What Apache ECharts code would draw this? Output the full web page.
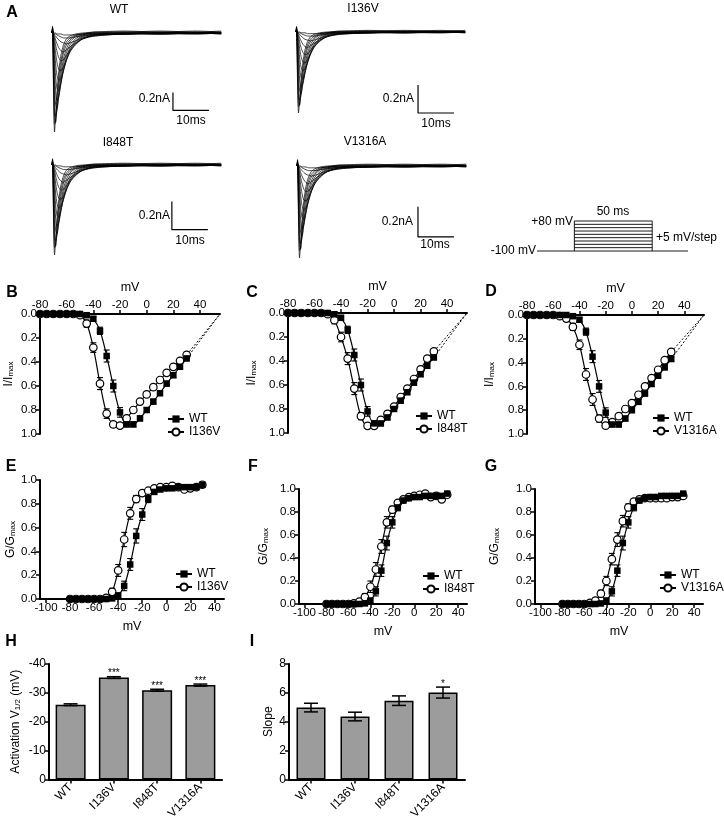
<!DOCTYPE html>
<html>
<head>
<meta charset="utf-8">
<script src="https://cdn.jsdelivr.net/npm/echarts@6.0.0/dist/echarts.min.js"></script>
<style>html,body{margin:0;padding:0;background:#fff;}#chart{width:724px;height:822px;}</style>
</head>
<body>
<div id="chart"></div>
<script>
// ---------------- DATA ----------------
// Panel A: current-trace family (normalised to the largest peak), shared sampling times (ms)
const traceTimesMs = [0, 0.15, 0.4, 0.7, 1.0, 1.4, 1.9, 2.5, 3.2, 4, 5, 6.5, 8.5, 12, 20, 30, 40, 47];
const traceFamily = [
  [0, 0.07, -0.55, -1.00, -0.85, -0.60, -0.38, -0.22, -0.12, -0.06, -0.03, -0.01, 0.00, 0.01, 0.02, 0.01, 0.02, 0.01],
  [0, 0.06, -0.45, -0.92, -0.90, -0.68, -0.45, -0.28, -0.16, -0.09, -0.05, -0.02, -0.01, 0.01, 0.01, 0.02, 0.01, 0.02],
  [0, 0.05, -0.35, -0.82, -0.90, -0.74, -0.52, -0.34, -0.20, -0.12, -0.07, -0.03, -0.01, 0.00, 0.01, 0.00, 0.01, 0.00],
  [0, 0.05, -0.25, -0.68, -0.84, -0.78, -0.60, -0.41, -0.26, -0.16, -0.09, -0.04, -0.02, 0.00, 0.00, 0.01, 0.00, 0.01],
  [0, 0.04, -0.18, -0.52, -0.72, -0.76, -0.64, -0.47, -0.31, -0.20, -0.12, -0.06, -0.02, 0.00, -0.01, 0.00, 0.00, -0.01],
  [0, 0.04, -0.12, -0.38, -0.58, -0.68, -0.64, -0.51, -0.36, -0.24, -0.15, -0.08, -0.03, -0.01, 0.00, -0.01, -0.01, 0.00],
  [0, 0.03, -0.08, -0.26, -0.44, -0.56, -0.58, -0.50, -0.38, -0.27, -0.17, -0.09, -0.04, -0.01, 0.00, -0.01, 0.00, 0.00],
  [0, 0.03, -0.05, -0.17, -0.31, -0.43, -0.48, -0.46, -0.38, -0.28, -0.19, -0.11, -0.05, -0.02, -0.01, 0.00, 0.00, -0.01],
  [0, 0.02, -0.03, -0.10, -0.20, -0.30, -0.37, -0.38, -0.34, -0.27, -0.19, -0.12, -0.06, -0.02, -0.01, -0.01, 0.00, 0.00],
  [0, 0.02, -0.02, -0.06, -0.12, -0.19, -0.25, -0.28, -0.27, -0.23, -0.17, -0.11, -0.06, -0.02, -0.01, 0.00, -0.01, 0.00],
  [0, 0.02, -0.01, -0.03, -0.07, -0.11, -0.15, -0.18, -0.19, -0.17, -0.14, -0.10, -0.06, -0.03, -0.01, -0.01, 0.00, 0.00],
  [0, 0.01, 0.00, -0.02, -0.03, -0.05, -0.07, -0.09, -0.10, -0.11, -0.10, -0.08, -0.05, -0.03, -0.01, 0.00, 0.00, 0.00],
  [0, 0.01, 0.00, -0.01, -0.01, -0.02, -0.03, -0.04, -0.05, -0.05, -0.05, -0.04, -0.03, -0.02, -0.01, 0.00, 0.00, 0.00],
  [0, 0.01, 0.01, 0.00, 0.00, -0.01, -0.01, -0.01, -0.02, -0.02, -0.02, -0.02, -0.01, -0.01, 0.00, 0.00, 0.00, 0.00]
];
const tracePanels = ['WT', 'I136V', 'I848T', 'V1316A'];
const tracePeakNA = [1.10, 0.58, 0.64, 0.61];
const scaleBarNA = 0.2;
const scaleBarMs = 10;
const scaleBarCornerMs = [33.6, 33.9, 33.3, 33.6];
const scaleBarCornerNA = [-0.86, -0.58, -0.46, -0.47];

// Voltage protocol
const holdingMv = -100;
const protocolStepsMv = [-80, -60, -40, -20, 0, 20, 40, 60, 80];
const protocolTimesMs = [-24, 0, 50, 73];

// I-V and G-V data
const voltages = [-80,-75,-70,-65,-60,-55,-50,-45,-40,-35,-30,-25,-20,-15,-10,-5,0,5,10,15,20,25,30];
const reversalMv = 55;
const ivWT     = [0,0,0,0,0,0,0,0.01,0.04,0.14,0.35,0.60,0.82,0.92,0.92,0.87,0.80,0.73,0.66,0.58,0.51,0.44,0.37];
const ivI136V  = [0,0,0,0,0,0,0.01,0.08,0.28,0.58,0.83,0.92,0.93,0.87,0.80,0.73,0.67,0.61,0.55,0.49,0.44,0.39,0.34];
const ivI848T  = [0,0,0,0,0,0,0.01,0.06,0.20,0.38,0.63,0.86,0.94,0.94,0.89,0.84,0.78,0.70,0.63,0.55,0.47,0.38,0.32];
const ivV1316A = [0,0,0,0,0,0.01,0.03,0.10,0.25,0.50,0.71,0.87,0.93,0.90,0.85,0.79,0.74,0.67,0.60,0.53,0.46,0.38,0.31];
const semWTiv     = [0,0,0,0,0,0,0,0.01,0.02,0.03,0.05,0.05,0.04,0.02,0.02,0.02,0.02,0.02,0.02,0.02,0.02,0.02,0.02];
const semI136Viv  = [0,0,0,0,0,0,0.01,0.03,0.04,0.05,0.04,0.02,0.02,0.02,0.02,0.02,0.02,0.02,0.02,0.02,0.02,0.02,0.02];
const semI848Tiv  = [0,0,0,0,0,0,0.01,0.03,0.04,0.05,0.05,0.03,0.02,0.02,0.02,0.02,0.02,0.02,0.02,0.02,0.02,0.02,0.02];
const semV1316Aiv = [0,0,0,0,0,0.01,0.02,0.03,0.04,0.05,0.05,0.03,0.02,0.02,0.02,0.02,0.02,0.02,0.02,0.02,0.02,0.02,0.02];

const gvWT     = [0,0,0,0,0,0,0,0.005,0.03,0.11,0.29,0.53,0.71,0.84,0.90,0.92,0.93,0.93,0.94,0.94,0.94,0.94,0.96];
const gvI136V  = [0,0,0,0,0,0,0.01,0.06,0.24,0.50,0.72,0.84,0.89,0.91,0.93,0.94,0.94,0.95,0.94,0.92,0.93,0.94,0.96];
const gvI848T  = [0,0,0,0,0,0.005,0.02,0.06,0.15,0.30,0.50,0.71,0.82,0.88,0.91,0.93,0.94,0.95,0.96,0.93,0.94,0.91,0.95];
const gvV1316A = [0,0,0,0,0,0.01,0.03,0.09,0.20,0.39,0.56,0.72,0.84,0.89,0.91,0.92,0.92,0.92,0.92,0.92,0.93,0.93,0.94];
const semWTgv     = [0,0,0,0,0,0,0,0.01,0.02,0.04,0.05,0.06,0.05,0.03,0.02,0.01,0.01,0.01,0.01,0.01,0.01,0.01,0.01];
const semI136Vgv  = [0,0,0,0,0,0,0.01,0.03,0.05,0.06,0.05,0.03,0.02,0.01,0.01,0.01,0.01,0.01,0.01,0.01,0.01,0.01,0.01];
const semI848Tgv  = [0,0,0,0,0,0,0.01,0.03,0.05,0.06,0.06,0.05,0.03,0.02,0.01,0.01,0.01,0.01,0.01,0.01,0.01,0.01,0.01];
const semV1316Agv = [0,0,0,0,0,0.01,0.02,0.03,0.04,0.05,0.06,0.05,0.03,0.02,0.01,0.01,0.01,0.01,0.01,0.01,0.01,0.01,0.01];

const ivTickValues = [-80, -60, -40, -20, 0, 20, 40];
const gvTickValues = [-100, -80, -60, -40, -20, 0, 20, 40];

// Bar panels H and I
const barCats = ['WT', 'I136V', 'I848T', 'V1316A'];
const actV12 = [-25.9, -35.3, -30.9, -32.7];
const actV12Sem = [0.3, 0.3, 0.35, 0.35];
const actV12Sig = ['', '***', '***', '***'];
const slopeVals = [4.98, 4.36, 5.46, 6.02];
const slopeSem = [0.3, 0.3, 0.33, 0.38];
const slopeSig = ['', '', '', '*'];

// ---------------- LAYOUT / STYLE ----------------
const FONT = '"Liberation Sans", Arial, Helvetica, sans-serif';
const BLACK = '#000';
const grid = [], xAxis = [], yAxis = [], series = [], legend = [], graphic = [];

function addPanel(g, xa, ya) {
  const i = grid.length;
  grid.push(g);
  xa.gridIndex = i; ya.gridIndex = i;
  xAxis.push(xa); yAxis.push(ya);
  return i;
}
function text(x, y, s, font, align, extra) {
  graphic.push(Object.assign({
    type: 'text', x: x, y: y, silent: true,
    style: {text: s, fill: BLACK, font: font, align: align || 'center', verticalAlign: 'middle',
            textAlign: align || 'center', textVerticalAlign: 'middle'}
  }, extra || {}));
}
const f12 = '12px ' + FONT;
const letterFont = 'bold 16px ' + FONT;
const subRich = {
  n: {fontSize: 12, fontFamily: FONT, color: BLACK},
  s: {fontSize: 8, fontFamily: FONT, color: BLACK, padding: [5, 0, 0, 0]}
};
function axisLineStyle() { return {show: true, onZero: false, lineStyle: {color: BLACK, width: 2}}; }
function axisTickStyle(extra) { return Object.assign({show: true, length: 4, lineStyle: {color: BLACK, width: 1.5}}, extra || {}); }
function axisLabelStyle(extra) { return Object.assign({color: BLACK, fontSize: 11.5, fontFamily: FONT, margin: 3}, extra || {}); }

function errRender(cap, lw) {
  return function (params, api) {
    const x = api.value(0), y = api.value(1), e = api.value(2);
    if (!e) return null;
    const p1 = api.coord([x, y - e]), p2 = api.coord([x, y + e]);
    const h = cap / 2;
    const st = {stroke: BLACK, lineWidth: lw};
    return {type: 'group', children: [
      {type: 'line', shape: {x1: p1[0], y1: p1[1], x2: p2[0], y2: p2[1]}, style: st},
      {type: 'line', shape: {x1: p1[0] - h, y1: p1[1], x2: p1[0] + h, y2: p1[1]}, style: st},
      {type: 'line', shape: {x1: p2[0] - h, y1: p2[1], x2: p2[0] + h, y2: p2[1]}, style: st}
    ]};
  };
}
function barErrRender(sig) {
  return function (params, api) {
    const x = api.value(0), y = api.value(1), e = api.value(2);
    const p1 = api.coord([x, y - e]), p2 = api.coord([x, y + e]);
    const h = 7;
    const st = {stroke: BLACK, lineWidth: 1.5};
    const top = Math.min(p1[1], p2[1]);
    const ch = [
      {type: 'line', shape: {x1: p1[0], y1: p1[1], x2: p2[0], y2: p2[1]}, style: st},
      {type: 'line', shape: {x1: p1[0] - h, y1: p1[1], x2: p1[0] + h, y2: p1[1]}, style: st},
      {type: 'line', shape: {x1: p2[0] - h, y1: p2[1], x2: p2[0] + h, y2: p2[1]}, style: st}
    ];
    const s = sig[params.dataIndex];
    if (s) ch.push({type: 'text', style: {text: s, x: p1[0], y: top - 3, fill: BLACK, font: '10px ' + FONT,
      align: 'center', verticalAlign: 'middle', textAlign: 'center', textVerticalAlign: 'middle'}});
    return {type: 'group', children: ch};
  };
}

// ---------- Panel A: traces ----------
const traceLayout = [
  {left: 52, top: 33, depth: 99},
  {left: 296, top: 32, depth: 81},
  {left: 52, top: 165, depth: 90},
  {left: 297, top: 166, depth: 92}
];
const traceText = [
  {title: [119, 10], na: [170, 99], ms: [191, 121]},
  {title: [363, 9], na: [414, 99], ms: [436, 124]},
  {title: [118, 143], na: [170, 216], ms: [190, 241]},
  {title: [365, 142], na: [413, 222], ms: [435, 245]}
];
tracePanels.forEach(function (name, p) {
  const L = traceLayout[p], peak = tracePeakNA[p];
  const gi = addPanel({left: L.left, top: L.top, width: 180, height: L.depth},
    {type: 'value', show: false, min: 0, max: 50},
    {type: 'value', show: false, min: -peak, max: 0});
  traceFamily.forEach(function (row, r) {
    series.push({type: 'line', name: name + ' trace ' + (r + 1), xAxisIndex: gi, yAxisIndex: gi,
      data: traceTimesMs.map(function (t, j) { return [t, row[j] * peak]; }),
      symbol: 'none', smooth: 0.25, clip: false, silent: true,
      lineStyle: {color: BLACK, width: 0.7}});
  });
  const cx = scaleBarCornerMs[p], cy = scaleBarCornerNA[p];
  series.push({type: 'line', name: name + ' scale bar', xAxisIndex: gi, yAxisIndex: gi,
    data: [[cx, cy + scaleBarNA], [cx, cy], [cx + scaleBarMs, cy]],
    symbol: 'none', clip: false, silent: true, lineStyle: {color: BLACK, width: 1.2}});
  const T = traceText[p];
  text(T.title[0], T.title[1], name, f12);
  text(T.na[0], T.na[1], scaleBarNA + 'nA', f12, 'right');
  text(T.ms[0], T.ms[1], scaleBarMs + 'ms', f12);
});
text(12, 13, 'A', letterFont);

// ---------- Voltage protocol ----------
const pg = addPanel({left: 537, top: 221, width: 151, height: 30},
  {type: 'value', show: false, min: protocolTimesMs[0], max: protocolTimesMs[3]},
  {type: 'value', show: false, min: holdingMv, max: 80});
const protoLines = [
  [[protocolTimesMs[0], holdingMv], [protocolTimesMs[3], holdingMv]],
  [[protocolTimesMs[1], holdingMv], [protocolTimesMs[1], 80]],
  [[protocolTimesMs[2], holdingMv], [protocolTimesMs[2], 80]]
].concat(protocolStepsMv.map(function (s) { return [[protocolTimesMs[1], s], [protocolTimesMs[2], s]]; }));
protoLines.forEach(function (d, i) {
  series.push({type: 'line', name: 'protocol ' + i, xAxisIndex: pg, yAxisIndex: pg, data: d,
    symbol: 'none', clip: false, silent: true, lineStyle: {color: BLACK, width: 0.9}});
});
text(536, 251, '-100 mV', f12, 'right');
text(573, 222, '+80 mV', f12, 'right');
text(613, 212, '50 ms', f12);
text(656, 238, '+5 mV/step', f12, 'left');

// ---------- helper for WT/mutant datasets ----------
function pushDataset(gi, name, ys, es, filled) {
  series.push({type: 'custom', name: name + ' SEM', xAxisIndex: gi, yAxisIndex: gi,
    renderItem: errRender(6, 1.1), data: voltages.map(function (v, i) { return [v, ys[i], es[i]]; }),
    encode: {x: 0, y: 1}, clip: false, silent: true, z: 2});
  series.push({type: 'line', name: name, xAxisIndex: gi, yAxisIndex: gi,
    data: voltages.map(function (v, i) { return [v, ys[i]]; }),
    symbol: filled ? 'rect' : 'circle', symbolSize: filled ? 6.5 : 7.5, showAllSymbol: true,
    smooth: 0.3, clip: false, silent: true, z: filled ? 4 : 3,
    itemStyle: filled ? {color: BLACK} : {color: '#fff', borderColor: BLACK, borderWidth: 1.2},
    lineStyle: {color: BLACK, width: 1.2}});
}
function addLegend(names, left, top) {
  legend.push({data: names, left: left, top: top, orient: 'vertical', itemWidth: 16, itemHeight: 9,
    itemGap: 1, padding: 0, selectedMode: false,
    textStyle: {fontSize: 12, fontFamily: FONT, color: BLACK}});
}

// ---------- Panels B-D: I-V ----------
const ivMutants = [
  {name: 'I136V', y: ivI136V, e: semI136Viv, letter: 'B'},
  {name: 'I848T', y: ivI848T, e: semI848Tiv, letter: 'C'},
  {name: 'V1316A', y: ivV1316A, e: semV1316Aiv, letter: 'D'}
];
const ivLayout = [
  {left: 40, top: 314, width: 180, height: 120, nameGap: 25, letter: [12, 293], leg: [167, 413]},
  {left: 288, top: 313, width: 179, height: 120, nameGap: 30, letter: [252, 293], leg: [415, 410]},
  {left: 527, top: 315, width: 177, height: 119, nameGap: 31, letter: [491, 292], leg: [652, 412]}
];
ivMutants.forEach(function (m, k) {
  const L = ivLayout[k];
  const gi = addPanel({left: L.left, top: L.top, width: L.width, height: L.height},
    {type: 'value', position: 'top', min: -80, max: reversalMv,
      name: 'mV', nameLocation: 'middle', nameGap: 20,
      nameTextStyle: {fontSize: 12.5, fontFamily: FONT, color: BLACK},
      axisLine: axisLineStyle(), axisTick: axisTickStyle({customValues: ivTickValues}),
      axisLabel: axisLabelStyle({customValues: ivTickValues}), splitLine: {show: false}},
    {type: 'value', inverse: true, min: 0, max: 1, interval: 0.2,
      name: '{n|I/I}{s|max}', nameLocation: 'middle', nameGap: L.nameGap, nameRotate: 90,
      nameTextStyle: {rich: subRich},
      axisLine: axisLineStyle(), axisTick: axisTickStyle(),
      axisLabel: axisLabelStyle({formatter: function (v) { return v.toFixed(1); }}),
      splitLine: {show: false}});
  pushDataset(gi, m.name, m.y, m.e, false);
  pushDataset(gi, 'WT', ivWT, semWTiv, true);
  [ivWT, m.y].forEach(function (ys, j) {
    series.push({type: 'line', name: (j ? m.name : 'WT') + ' extrapolation', xAxisIndex: gi, yAxisIndex: gi,
      data: [[voltages[voltages.length - 1], ys[ys.length - 1]], [reversalMv, 0]],
      symbol: 'none', clip: false, silent: true, z: 1,
      lineStyle: {color: BLACK, width: 1, type: [2, 2]}});
  });
  addLegend(['WT', m.name], L.leg[0], L.leg[1]);
  text(L.letter[0], L.letter[1], m.letter, letterFont);
});

// ---------- Panels E-G: G-V ----------
const gvMutants = [
  {name: 'I136V', y: gvI136V, e: semI136Vgv, letter: 'E'},
  {name: 'I848T', y: gvI848T, e: semI848Tgv, letter: 'F'},
  {name: 'V1316A', y: gvV1316A, e: semV1316Agv, letter: 'G'}
];
const gvLayout = [
  {left: 40, top: 480, width: 184, height: 119, nameGap: 23, letter: [11, 467], leg: [175, 568]},
  {left: 299, top: 489, width: 168, height: 115, nameGap: 29, letter: [253, 467], leg: [422, 570]},
  {left: 535, top: 489, width: 168, height: 115, nameGap: 34, letter: [491, 467], leg: [659, 569]}
];
gvMutants.forEach(function (m, k) {
  const L = gvLayout[k];
  const gi = addPanel({left: L.left, top: L.top, width: L.width, height: L.height},
    {type: 'value', position: 'bottom', min: -105, max: 48,
      name: 'mV', nameLocation: 'middle', nameGap: 21,
      nameTextStyle: {fontSize: 12.5, fontFamily: FONT, color: BLACK},
      axisLine: axisLineStyle(), axisTick: axisTickStyle({customValues: gvTickValues}),
      axisLabel: axisLabelStyle({customValues: gvTickValues}), splitLine: {show: false}},
    {type: 'value', min: 0, max: 1, interval: 0.2,
      name: '{n|G/G}{s|max}', nameLocation: 'middle', nameGap: L.nameGap, nameRotate: 90,
      nameTextStyle: {rich: subRich},
      axisLine: axisLineStyle(), axisTick: axisTickStyle(),
      axisLabel: axisLabelStyle({formatter: function (v) { return v.toFixed(1); }}),
      splitLine: {show: false}});
  pushDataset(gi, m.name, m.y, m.e, false);
  pushDataset(gi, 'WT', gvWT, semWTgv, true);
  addLegend(['WT', m.name], L.leg[0], L.leg[1]);
  text(L.letter[0], L.letter[1], m.letter, letterFont);
});

// ---------- Panels H, I: bars ----------
function catAxis() {
  return {type: 'category', data: barCats, position: 'bottom',
    axisLine: axisLineStyle(), axisTick: axisTickStyle({alignWithLabel: true}),
    axisLabel: axisLabelStyle({rotate: 45, fontSize: 12, margin: 6}), splitLine: {show: false}};
}
const hi = addPanel({left: 49, top: 664, width: 173, height: 117}, catAxis(),
  {type: 'value', inverse: true, min: -40, max: 0, interval: 10,
    name: '{n|Activation V}{s|1/2}{n| (mV)}', nameLocation: 'middle', nameGap: 27, nameRotate: 90,
    nameTextStyle: {rich: subRich},
    axisLine: axisLineStyle(), axisTick: axisTickStyle(),
    axisLabel: axisLabelStyle({fontSize: 12}), splitLine: {show: false}});
series.push({type: 'bar', name: 'Activation V1/2', xAxisIndex: hi, yAxisIndex: hi, data: actV12,
  barWidth: 30, silent: true, itemStyle: {color: '#9c9c9c', borderColor: BLACK, borderWidth: 1.5}});
series.push({type: 'custom', name: 'Activation V1/2 SEM', xAxisIndex: hi, yAxisIndex: hi,
  data: barCats.map(function (c, i) { return [i, actV12[i], actV12Sem[i]]; }),
  encode: {x: 0, y: 1}, renderItem: barErrRender(actV12Sig), clip: false, silent: true, z: 3});
text(11, 642, 'H', letterFont);

const ii = addPanel({left: 289, top: 664, width: 176, height: 117}, catAxis(),
  {type: 'value', min: 0, max: 8, interval: 2,
    name: 'Slope', nameLocation: 'middle', nameGap: 14, nameRotate: 90,
    nameTextStyle: {fontSize: 12, fontFamily: FONT, color: BLACK},
    axisLine: axisLineStyle(), axisTick: axisTickStyle(),
    axisLabel: axisLabelStyle({fontSize: 12}), splitLine: {show: false}});
series.push({type: 'bar', name: 'Slope', xAxisIndex: ii, yAxisIndex: ii, data: slopeVals,
  barWidth: 29, silent: true, itemStyle: {color: '#9c9c9c', borderColor: BLACK, borderWidth: 1.5}});
series.push({type: 'custom', name: 'Slope SEM', xAxisIndex: ii, yAxisIndex: ii,
  data: barCats.map(function (c, i) { return [i, slopeVals[i], slopeSem[i]]; }),
  encode: {x: 0, y: 1}, renderItem: barErrRender(slopeSig), clip: false, silent: true, z: 3});
text(252, 642, 'I', letterFont);

const chart = echarts.init(document.getElementById('chart'));
chart.setOption({
  animation: false,
  backgroundColor: '#fff',
  textStyle: {fontFamily: FONT},
  grid: grid, xAxis: xAxis, yAxis: yAxis, series: series, legend: legend, graphic: graphic
});
</script>
</body>
</html>
